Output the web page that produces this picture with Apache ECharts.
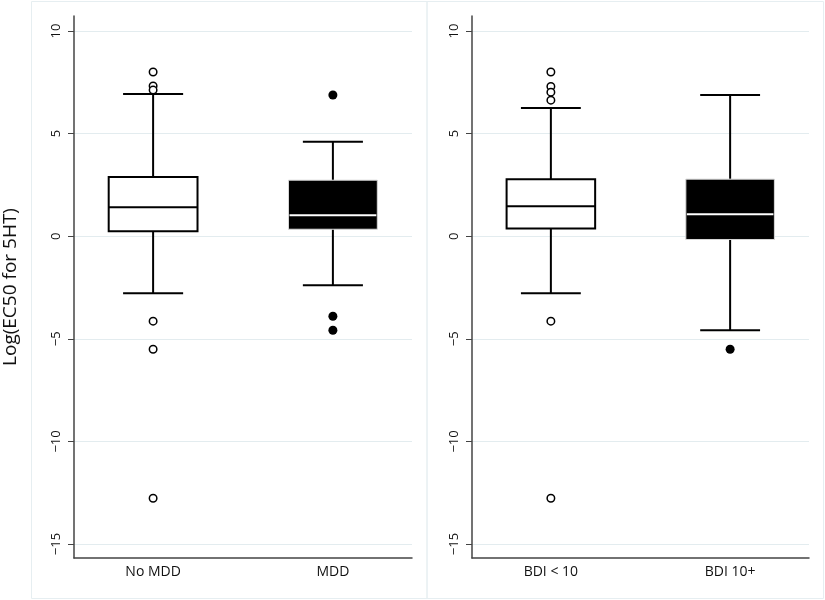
<!DOCTYPE html>
<html>
<head>
<meta charset="utf-8">
<script src="https://cdn.jsdelivr.net/npm/echarts@6/dist/echarts.min.js"></script>
<style>html,body{margin:0;padding:0;background:#fff}#c{width:825px;height:600px}</style>
</head>
<body>
<div id="c"></div>
<script>
// ---- data ----
var leftCategories = ['No MDD', 'MDD'];
var rightCategories = ['BDI < 10', 'BDI 10+'];
// [lower whisker, Q1, median, Q3, upper whisker]
var leftBoxes = [[-2.78, 0.24, 1.41, 2.88, 6.93], [-2.39, 0.34, 1.02, 2.73, 4.60]];
var rightBoxes = [[-2.78, 0.38, 1.46, 2.78, 6.25], [-4.58, -0.16, 1.07, 2.78, 6.88]];
var noMddOutliers = [8.0, 7.32, 7.12, -4.14, -5.51, -12.77];
var mddOutliers = [6.88, -3.90, -4.58];
var bdiLowOutliers = [8.0, 7.3, 7.02, 6.63, -4.14, -12.77];
var bdiHighOutliers = [-5.51];
var yTicks = [-15, -10, -5, 0, 5, 10];
var yTitle = 'Log(EC50 for 5HT)';

// ---- chart ----
var chart = echarts.init(document.getElementById('c'), null, {renderer: 'canvas'});
var FONT = '"Open Sans", "Noto Sans", sans-serif';
var Y_MIN = -15.68, Y_MAX = 10.73;
var X_MIN = -0.44, X_MAX = 1.44;
var BOX_HALF = 0.247, CAP_HALF = 0.167;

function boxRender(filledIdx) {
  return function (params, api) {
    var x = api.value(0);
    var lo = api.value(1), q1 = api.value(2), med = api.value(3), q3 = api.value(4), hi = api.value(5);
    var filled = x === filledIdx;
    var pLoL = api.coord([x - BOX_HALF, q1]);
    var pHiR = api.coord([x + BOX_HALF, q3]);
    var cx = api.coord([x, 0])[0];
    var capL = api.coord([x - CAP_HALF, 0])[0];
    var capR = api.coord([x + CAP_HALF, 0])[0];
    var yLo = api.coord([x, lo])[1], yHi = api.coord([x, hi])[1];
    var yQ1 = pLoL[1], yQ3 = pHiR[1], yMed = api.coord([x, med])[1];
    var bl = pLoL[0], br = pHiR[0];
    var ls = {stroke: '#000', lineWidth: 2};
    return {
      type: 'group',
      children: [
        {type: 'line', shape: {x1: cx, y1: yQ3, x2: cx, y2: yHi}, style: ls},
        {type: 'line', shape: {x1: cx, y1: yQ1, x2: cx, y2: yLo}, style: ls},
        {type: 'line', shape: {x1: capL, y1: yHi, x2: capR, y2: yHi}, style: ls},
        {type: 'line', shape: {x1: capL, y1: yLo, x2: capR, y2: yLo}, style: ls},
        {type: 'rect', shape: {x: bl, y: yQ3, width: br - bl, height: yQ1 - yQ3},
          style: filled ? {fill: '#000', stroke: '#d8d8d8', lineWidth: 1} : {fill: '#fff', stroke: '#000', lineWidth: 2}},
        {type: 'line', shape: {x1: bl + (filled ? 1 : 0), y1: yMed, x2: br - (filled ? 1 : 0), y2: yMed},
          style: {stroke: filled ? '#fff' : '#000', lineWidth: 2}}
      ]
    };
  };
}

function boxData(boxes) {
  return boxes.map(function (b, i) { return [i, b[0], b[1], b[2], b[3], b[4]]; });
}
function pts(idx, arr) { return arr.map(function (v) { return [idx, v]; }); }

function yAxis(gridIndex, withName) {
  return {
    type: 'value', gridIndex: gridIndex, min: Y_MIN, max: Y_MAX,
    name: withName ? yTitle : '', nameLocation: 'middle', nameGap: 54,
    nameTextStyle: {fontFamily: FONT, fontSize: 19, color: '#111'},
    axisLine: {show: true, onZero: false, lineStyle: {color: '#444', width: 1.5}},
    axisTick: {show: true, length: 6, customValues: yTicks, lineStyle: {color: '#444', width: 1}},
    axisLabel: {show: true, customValues: yTicks, rotate: 90, margin: 11,
      fontFamily: FONT, fontSize: 13, color: '#111',
      formatter: function (v) { return v < 0 ? '\u2212' + Math.abs(v) : String(v); }},
    splitLine: {show: false}
  };
}
function xAxis(gridIndex, cats) {
  return {
    type: 'value', gridIndex: gridIndex, min: X_MIN, max: X_MAX,
    axisLine: {show: true, onZero: false, lineStyle: {color: '#444', width: 1.5}},
    axisTick: {show: false},
    axisLabel: {show: true, customValues: [0, 1], margin: 7,
      fontFamily: FONT, fontSize: 14, color: '#111',
      formatter: function (v) { return cats[Math.round(v)]; }},
    splitLine: {show: false}
  };
}
function gridLines() {
  return {
    silent: true, symbol: 'none', label: {show: false}, z: 0,
    lineStyle: {color: '#e3ecef', width: 1, type: 'solid'},
    emphasis: {disabled: true},
    data: yTicks.map(function (t) { return {yAxis: t}; })
  };
}
var hollow = {color: '#fff', borderColor: '#000', borderWidth: 1.5, opacity: 1};
var solid = {color: '#000', borderColor: '#000', borderWidth: 0, opacity: 1};

chart.setOption({
  backgroundColor: '#fff',
  animation: false,
  graphic: [
    {type: 'rect', shape: {x: 31.5, y: 1.5, width: 395.5, height: 597}, style: {fill: 'none', stroke: '#e6eef1', lineWidth: 1}, z: -10},
    {type: 'rect', shape: {x: 427, y: 1.5, width: 396.5, height: 597}, style: {fill: 'none', stroke: '#e6eef1', lineWidth: 1}, z: -10}
  ],
  grid: [
    {left: 74, right: 413, top: 16, bottom: 42},
    {left: 472, right: 16, top: 16, bottom: 42}
  ],
  xAxis: [xAxis(0, leftCategories), xAxis(1, rightCategories)],
  yAxis: [yAxis(0, true), yAxis(1, false)],
  series: [
    {type: 'custom', xAxisIndex: 0, yAxisIndex: 0, renderItem: boxRender(1), data: boxData(leftBoxes),
      encode: {x: 0, y: [1, 2, 3, 4, 5]}, markLine: gridLines(), z: 2},
    {type: 'custom', xAxisIndex: 1, yAxisIndex: 1, renderItem: boxRender(1), data: boxData(rightBoxes),
      encode: {x: 0, y: [1, 2, 3, 4, 5]}, markLine: gridLines(), z: 2},
    {type: 'scatter', xAxisIndex: 0, yAxisIndex: 0, symbol: 'circle', symbolSize: 7.5, itemStyle: hollow, data: pts(0, noMddOutliers), z: 3},
    {type: 'scatter', xAxisIndex: 0, yAxisIndex: 0, symbol: 'circle', symbolSize: 9, itemStyle: solid, data: pts(1, mddOutliers), z: 3},
    {type: 'scatter', xAxisIndex: 1, yAxisIndex: 1, symbol: 'circle', symbolSize: 7.5, itemStyle: hollow, data: pts(0, bdiLowOutliers), z: 3},
    {type: 'scatter', xAxisIndex: 1, yAxisIndex: 1, symbol: 'circle', symbolSize: 9, itemStyle: solid, data: pts(1, bdiHighOutliers), z: 3}
  ]
});
</script>
</body>
</html>
